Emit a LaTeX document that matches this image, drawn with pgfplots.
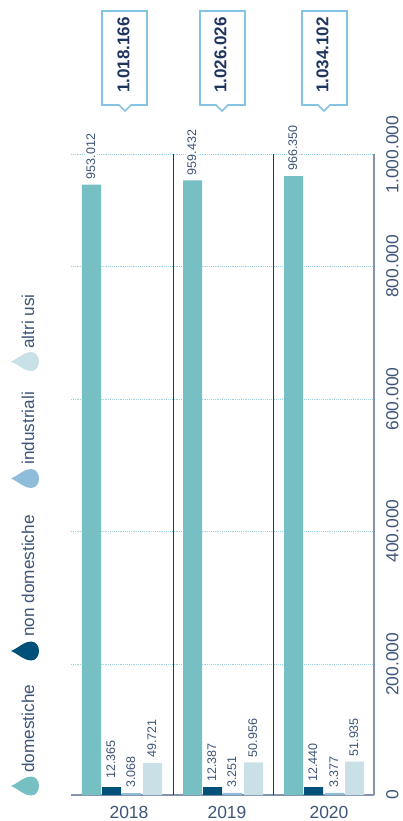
\documentclass[border=0pt]{standalone}
\usepackage{pgfplots}
\pgfplotsset{compat=1.18}
\usepackage{fontspec}
\setmainfont{Liberation Sans}
\definecolor{teal1}{HTML}{76BFC2}
\definecolor{navy1}{HTML}{00507A}
\definecolor{blue1}{HTML}{8FBCD9}
\definecolor{pale1}{HTML}{C9E0E6}
\definecolor{txt}{HTML}{3F5578}
\definecolor{dark}{HTML}{1F3560}
\definecolor{axisc}{HTML}{8492AB}
\definecolor{box}{HTML}{85C3E3}
\definecolor{gridc}{HTML}{9CD0E6}
\begin{document}
\begin{tikzpicture}[x=0.75pt, y=-0.75pt]
\useasboundingbox (0,0) rectangle (403,821);
\pgfplotsset{lab/.style={ybar, bar shift=0pt, draw=none, fill=#1, bar width=14.25pt,
   point meta=explicit symbolic,
   nodes near coords, every node near coord/.style={rotate=90, anchor=west, font=\fontsize{9.4pt}{10pt}\selectfont, text=txt, fill=white, inner sep=0.6pt, xshift=3.2pt, yshift=0.5pt}}}
\begin{axis}[at={(53.25pt,-596.25pt)}, anchor=south west, scale only axis,
  width=227.25pt, height=480.4pt,
  xmin=71, xmax=374, ymin=0, ymax=1000000,
  axis x line*=bottom, axis y line*=right, axis line style={-, axisc, line width=0.9pt},
  xtick={129,227,329}, xticklabels={2018,2019,2020},
  extra x ticks={173.3,273.3}, extra x tick labels={,},
  extra x tick style={grid=major, major grid style={solid, dark, line width=0.6pt}, major tick length=0pt},
  ytick={0,204060,412178,618267,825449,1000000},
  yticklabels={0,200.000,400.000,600.000,800.000,1.000.000},
  scaled y ticks=false, ymajorgrids,
  grid style={densely dotted, gridc, line width=0.6pt},
  tick style={draw=none}, major tick length=0pt,
  yticklabel style={rotate=90, anchor=north, inner sep=0pt, yshift=-9pt},
  xticklabel style={anchor=north, inner sep=0pt, yshift=-8.25pt},
  tick label style={font=\fontsize{13.1pt}{15pt}\selectfont, text=txt},
  clip=false]
\addplot[lab=teal1] coordinates {(91.5,953012)[953.012] (192.5,959432)[959.432] (293.5,966350)[966.350]};
\addplot[lab=navy1, coordinate style/.condition={x<120}{yshift=2.5pt}] coordinates {(111.5,12365)[12.365] (212.5,12387)[12.387] (313.5,12440)[12.440]};
\addplot[lab=blue1] coordinates {(131.5,3068)[3.068] (232.5,3251)[3.251] (334.5,3377)[3.377]};
\addplot[lab=pale1] coordinates {(152.5,49721)[49.721] (253.5,50956)[50.956] (354.5,51935)[51.935]};
\end{axis}
% callouts
\foreach \l/\c/\v in {102/125/1.018.166, 200/222/1.026.026, 302/324/1.034.102}{
  \draw[box, line width=1.3pt] (\l,11) -- (\l+45,11) -- (\l+45,105) -- (\c+6,105) -- (\c,111) -- (\c-6,105) -- (\l,105) -- cycle;
  \node[rotate=90, text=dark, font=\fontsize{12.8pt}{14pt}\selectfont\bfseries, inner sep=0pt] at (\c-1.5,55) {\v};
}
% legend
\foreach \cy/\col/\t/\b in {786/teal1/domestiche/773, 651/navy1/non domestiche/637, 478.5/blue1/industriali/465, 361.5/pale1/altri usi/349}{
  \fill[\col] (11,\cy) .. controls (20,\cy-4) and (24,\cy-9.5) .. (31,\cy-9.5)
     .. controls (36,\cy-9.5) and (39,\cy-5) .. (39,\cy)
     .. controls (39,\cy+5) and (36,\cy+9.5) .. (31,\cy+9.5)
     .. controls (24,\cy+9.5) and (20,\cy+4) .. (11,\cy) -- cycle;
  \node[rotate=90, anchor=west, text=txt, font=\fontsize{12.9pt}{14pt}\selectfont, inner sep=0pt] at (28,\b) {\t};
}
\end{tikzpicture}
\end{document}
